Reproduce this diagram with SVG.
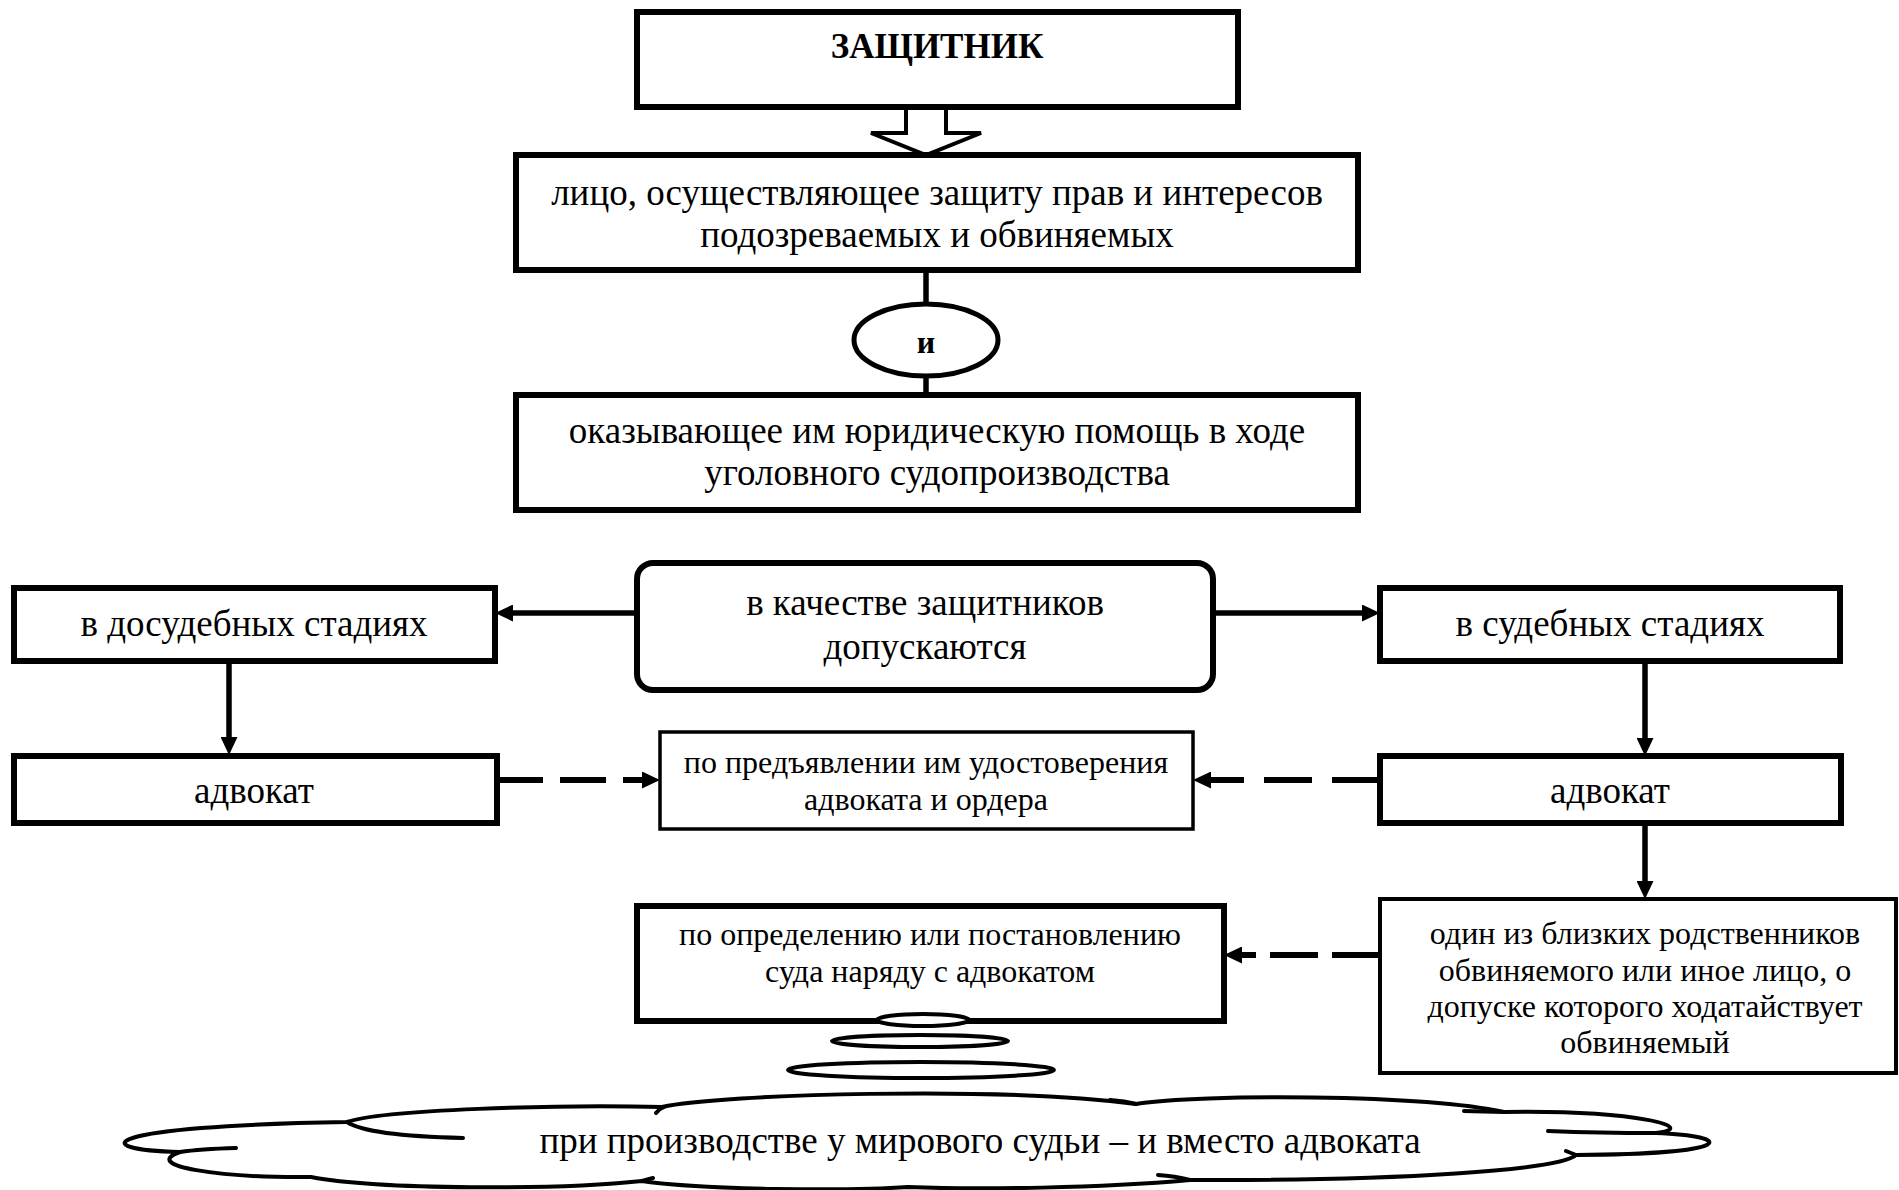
<svg xmlns="http://www.w3.org/2000/svg" width="1899" height="1190" viewBox="0 0 1899 1190">
<style>
.box{fill:#fff;stroke:#000;stroke-width:6}
.thin{fill:#fff;stroke:#000;stroke-width:3.5}
.t{font-family:"Liberation Serif","Times New Roman",serif;font-size:37px;fill:#000;text-anchor:middle}
.s{font-family:"Liberation Serif","Times New Roman",serif;font-size:32px;fill:#000;text-anchor:middle}
.b{font-family:"Liberation Serif","Times New Roman",serif;font-weight:bold;fill:#000;text-anchor:middle}
.ln{stroke:#000;stroke-width:5.5;fill:none}
.ar{stroke:#000;stroke-width:5.5;fill:none;marker-end:url(#ah)}
.da{stroke:#000;stroke-width:6;fill:none;marker-end:url(#ah)}
.cl{fill:#fff;stroke:#000;stroke-width:4;stroke-linejoin:round}
.ci{fill:none;stroke:#000;stroke-width:4;stroke-linecap:round}
</style>
<defs>
<marker id="ah" markerUnits="userSpaceOnUse" markerWidth="18" markerHeight="17" refX="8" refY="8.5" orient="auto">
<path d="M0,0 L18,8.5 L0,17 Z" fill="#000"/>
</marker>
</defs>
<rect width="1899" height="1190" fill="#fff"/>

<g id="connectors">
<polygon points="906,108 946,108 946,133 981,133 926,155 871,133 906,133" fill="#fff" stroke="#000" stroke-width="4"/>
<line class="ln" x1="926" y1="270" x2="926" y2="304"/>
<line class="ln" x1="926" y1="376" x2="926" y2="395"/>
<line class="ar" x1="637" y1="613" x2="505" y2="613"/>
<line class="ar" x1="1213" y1="613" x2="1370" y2="613"/>
<line class="ar" x1="229" y1="661" x2="229" y2="745"/>
<line class="ar" x1="1645" y1="661" x2="1645" y2="746"/>
<line class="da" x1="497" y1="780" x2="650" y2="780" stroke-dasharray="46 17"/>
<line class="da" x1="1380" y1="780" x2="1203" y2="780" stroke-dasharray="48 20"/>
<line class="ar" x1="1645" y1="823" x2="1645" y2="889"/>
<line class="da" x1="1380" y1="955" x2="1234" y2="955" stroke-dasharray="48 14"/>
</g>

<g id="n-zashchitnik">
<rect class="box" x="637" y="12" width="601" height="95"/>
<text class="b" x="937" y="58" font-size="35">ЗАЩИТНИК</text>
</g>

<g id="n-litso">
<rect class="box" x="516" y="155" width="842" height="115"/>
<text class="t" x="937" y="205">лицо, осуществляющее защиту прав и интересов</text>
<text class="t" x="937" y="247">подозреваемых и обвиняемых</text>
</g>

<g id="n-i">
<ellipse cx="926" cy="340" rx="72" ry="36" fill="#fff" stroke="#000" stroke-width="5"/>
<text class="b" x="926" y="353" font-size="32">и</text>
</g>

<g id="n-okazyvayushchee">
<rect class="box" x="516" y="395" width="842" height="115"/>
<text class="t" x="937" y="443">оказывающее им юридическую помощь в ходе</text>
<text class="t" x="937" y="485">уголовного судопроизводства</text>
</g>

<g id="n-dopuskayutsya">
<rect class="box" x="637" y="563" width="576" height="127" rx="16" ry="16"/>
<text class="t" x="925" y="615">в качестве защитников</text>
<text class="t" x="925" y="659">допускаются</text>
</g>

<g id="n-dosudebnye">
<rect class="box" x="14" y="588" width="481" height="73"/>
<text class="t" x="254" y="636">в досудебных стадиях</text>
</g>

<g id="n-sudebnye">
<rect class="box" x="1380" y="588" width="460" height="73"/>
<text class="t" x="1610" y="636">в судебных стадиях</text>
</g>

<g id="n-advokat-left">
<rect class="box" x="14" y="756" width="483" height="67"/>
<text class="t" x="254" y="803">адвокат</text>
</g>

<g id="n-advokat-right">
<rect class="box" x="1380" y="756" width="461" height="67"/>
<text class="t" x="1610" y="803">адвокат</text>
</g>

<g id="n-udostoverenie">
<rect class="thin" x="660" y="732" width="533" height="97"/>
<text class="s" x="926" y="773">по предъявлении им удостоверения</text>
<text class="s" x="926" y="810">адвоката и ордера</text>
</g>

<g id="n-rodstvenniki">
<rect x="1380" y="899" width="516" height="174" fill="#fff" stroke="#000" stroke-width="4"/>
<text class="s" x="1645" y="944">один из близких родственников</text>
<text class="s" x="1645" y="981">обвиняемого или иное лицо, о</text>
<text class="s" x="1645" y="1017">допуске которого ходатайствует</text>
<text class="s" x="1645" y="1053">обвиняемый</text>
</g>

<g id="n-opredelenie">
<rect class="box" x="637" y="906" width="587" height="115" stroke-width="5"/>
<text class="s" x="930" y="945">по определению или постановлению</text>
<text class="s" x="930" y="982">суда наряду с адвокатом</text>
</g>

<g id="n-bubbles">
<ellipse cx="923" cy="1020" rx="46" ry="6" fill="#fff" stroke="#000" stroke-width="4"/>
<ellipse cx="920" cy="1041" rx="88" ry="6" fill="#fff" stroke="#000" stroke-width="4"/>
<ellipse cx="921" cy="1070" rx="133" ry="8" fill="#fff" stroke="#000" stroke-width="4"/>
</g>

<g id="n-mirovoy-sudya">
<path class="cl" d="M 180,1152 C 85,1150 95,1126 347,1122 C 380,1110 560,1104 662,1107 C 720,1094 1000,1086 1136,1104 C 1200,1094 1420,1094 1504,1112 C 1640,1110 1700,1128 1656,1133 C 1735,1136 1740,1154 1576,1155 C 1560,1170 1400,1181 1190,1180 C 1100,1188 980,1190 908,1187 C 850,1191 700,1190 642,1181 C 560,1190 380,1190 311,1177 C 220,1178 140,1166 180,1152 Z"/>
<path class="ci" d="M 347,1122 C 365,1134 420,1137 463,1138 M 656,1113 Q 659,1109 664,1107 M 1110,1100 Q 1125,1101 1136,1104 M 1464,1111 L 1504,1112 M 1656,1133 Q 1600,1133 1548,1131 M 1566,1151 L 1576,1155 M 1190,1180 Q 1175,1176 1158,1175 M 642,1181 L 653,1178 M 180,1152 Q 200,1149 236,1148"/>
<text class="t" x="980" y="1153">при производстве у мирового судьи – и вместо адвоката</text>
</g>
</svg>
